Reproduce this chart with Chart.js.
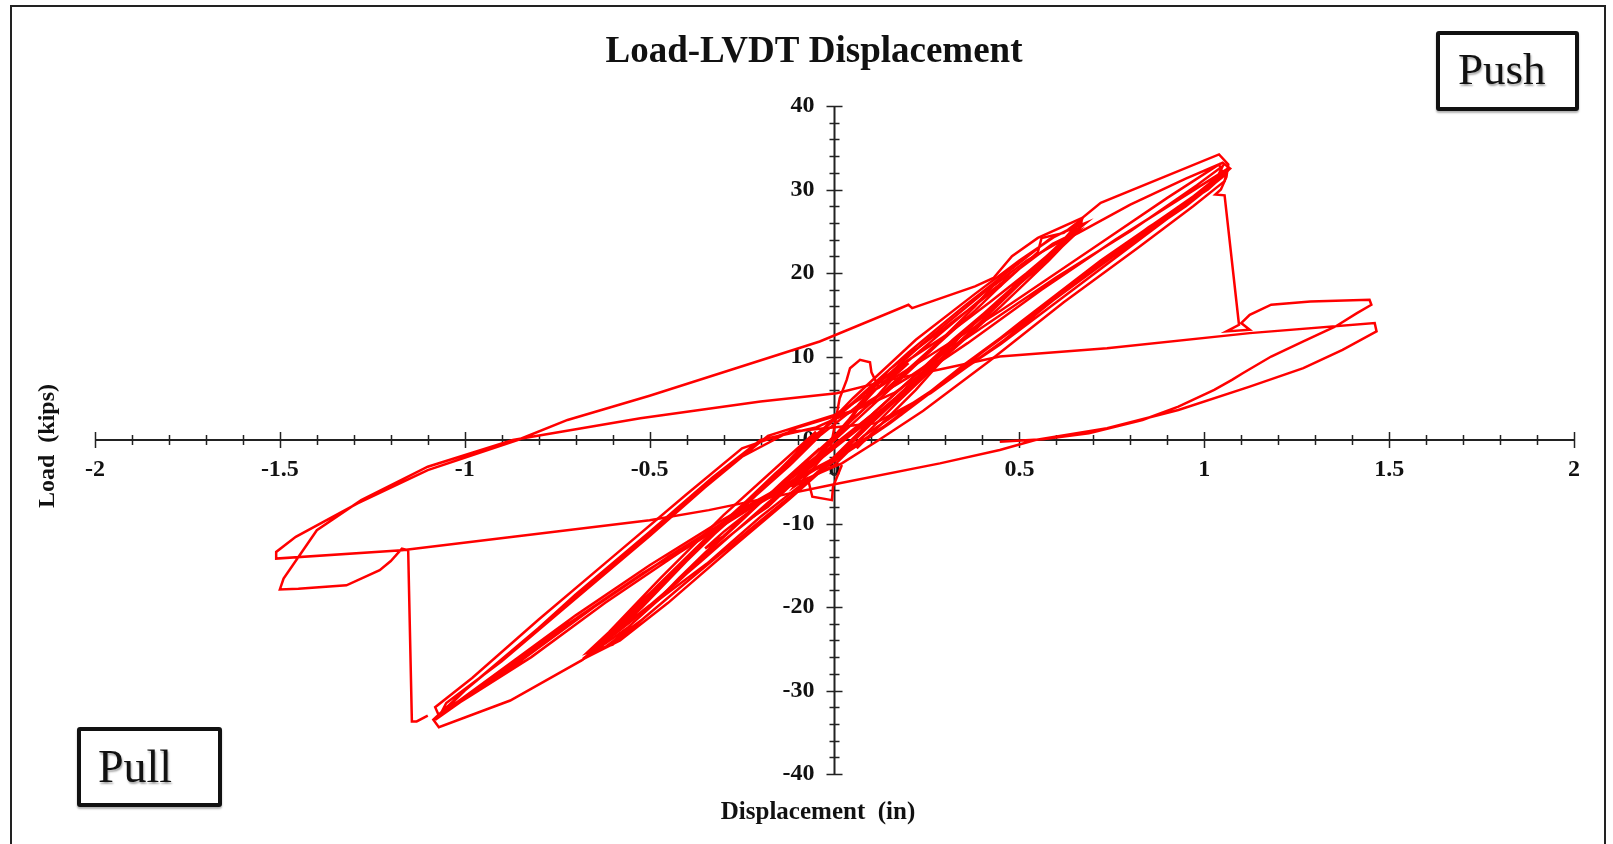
<!DOCTYPE html>
<html>
<head>
<meta charset="utf-8">
<script src="https://cdn.jsdelivr.net/npm/chart.js@4"></script>
<style>
body{margin:0;background:#fff;}
#wrap{position:relative;width:1613px;height:844px;overflow:hidden;}
#frame{position:absolute;left:10px;top:5px;width:1596px;height:845px;border:2px solid #222;box-sizing:border-box;}
.tag{position:absolute;border:4px solid #111;border-radius:3px;box-sizing:border-box;background:#fff;
font-family:"Liberation Serif",serif;font-size:45px;color:#111;text-shadow:1px 2px 2px rgba(0,0,0,0.35);
box-shadow:0 2px 2px rgba(0,0,0,0.3);}
#push{left:1436px;top:31px;width:143px;height:80px;padding:8px 0 0 18px;}
#pull{left:77px;top:727px;width:145px;height:80px;padding:9px 0 0 17px;font-size:46px;}
</style>
</head>
<body>
<div id="wrap">
<canvas id="chart" width="1613" height="844"></canvas>
<div id="frame"></div>
<div class="tag" id="push">Push</div>
<div class="tag" id="pull">Pull</div>
</div>
<script>
// small elastic cycles near the origin
const smallDisp=[0,0.03,0.06,0.09,0.11,0.08,0.04,0,-0.04,-0.08,-0.11,-0.09,-0.05,-0.01,0.014,0.033,0.042,0.069,0.096,0.1,0.12,0.16,0.2,0.17,0.11,0.05,0,-0.05,-0.1,-0.15,-0.19,-0.22,-0.18,-0.12,-0.07,-0.06,-0.007,-0.004,0.02];
const smallLoad=[0,1.5,3.5,5,6,4.8,2.5,0.5,-1.5,-3.8,-5.6,-5,-3,-0.8,5,7.2,8.6,9.6,9.3,8.1,6.3,7.8,9.2,8,5,2.5,0.3,-2.2,-4.5,-6.5,-8.2,-9.2,-8,-5.5,-5,-6.8,-7.2,-5.6,-3];

// cycles to about +-0.3 and +-0.45 in
const midDisp=[0.06,0.14,0.22,0.3,0.34,0.3,0.2,0.1,0,-0.1,-0.2,-0.3,-0.35,-0.3,-0.2,-0.1,0,0.1,0.2,0.3,0.38,0.43,0.47,0.45,0.38,0.28,0.16,0.05,-0.05,-0.15,-0.25,-0.35,-0.42,-0.47,-0.45,-0.37,-0.26,-0.14,-0.04];
const midLoad=[-1,2.5,6,10,12.5,11,7,3,-0.5,-4,-7.5,-11,-13,-11.5,-7.5,-3.5,0.5,4.5,8.5,12.5,16,18.5,19.8,18.5,15.5,11.5,6.5,2,-2,-5.5,-9.5,-13.5,-16.5,-18.8,-18,-14.5,-10,-5,-1];

// five cycles to +-0.67 in
const cyc67Disp=[0.05,0.15,0.3,0.45,0.55,0.56,0.62,0.67,0.66,0.58,0.45,0.3,0.17,0.08,0,-0.1,-0.25,-0.4,-0.52,-0.62,-0.67,-0.64,-0.55,-0.42,-0.28,-0.15,-0.06,
0.05,0.2,0.35,0.48,0.58,0.66,0.63,0.52,0.38,0.22,0.1,0.02,-0.12,-0.28,-0.45,-0.58,-0.66,-0.6,-0.48,-0.33,-0.18,-0.08,
0.08,0.18,0.3,0.42,0.52,0.6,0.65,0.67,0.62,0.54,0.44,0.32,0.2,0.1,0.02,-0.08,-0.2,-0.34,-0.46,-0.56,-0.64,-0.68,-0.63,-0.52,-0.4,-0.26,-0.12,-0.04,
0.06,0.16,0.28,0.4,0.5,0.59,0.66,0.6,0.47,0.33,0.19,0.07,-0.03,-0.18,-0.36,-0.5,-0.62,-0.67,-0.58,-0.44,-0.29,-0.16,-0.07,
0.05,0.22,0.38,0.5,0.6,0.68,0.61,0.5,0.35,0.2,0.08,0,-0.15,-0.32,-0.48,-0.6,-0.67,-0.61,-0.47,-0.3,-0.15,-0.05];
const cyc67Load=[3.5,8.5,13.5,18.5,22.5,24.2,24.8,26.5,25.2,21.5,16,10,4.5,0.5,-2.5,-6,-11.5,-17,-21.5,-24.8,-26,-24.6,-20.5,-15,-9.5,-4,0,
4.5,10.5,16,20.5,24,25.8,24,19.5,13.5,7,2,-1.5,-7,-13,-19.5,-24,-25.8,-23,-17.5,-11,-5,-0.5,
5.5,9,12.5,16.5,20,23,25.5,26.2,24,20.5,16.5,12,7,3,0,-3.5,-8.5,-13.5,-18.5,-22.5,-25,-26.2,-24.5,-20,-14.5,-8.5,-3,0.5,
4,8,12.5,17,20.5,23.5,25,22.5,17.5,12,6,1.5,-2,-7.5,-14.5,-19.8,-24,-25.5,-22.5,-16,-9.5,-4,-0.5,
5,12,17.5,21.5,24.5,26,23.5,19,13,6.5,1.5,-2,-8,-14,-20,-24.5,-25.5,-23,-16.5,-9,-3,1];

// cycles to about +1.05 / -1.08 in
const bigDisp=[0.1,0.25,0.4,0.52,0.6,0.66,0.8,0.95,1.05,1.07,1.02,0.9,0.75,0.6,0.45,0.3,0.18,0.08,
0,-0.065,-0.2,-0.345,-0.49,-0.684,-0.877,-1.07,-1.085,-1,-0.85,-0.7,-0.5,-0.33,-0.2,
-0.05,0.16,0.36,0.56,0.76,0.96,1.06,1.05,0.95,0.8,0.6,0.4,0.22,0.1,0,
-0.1,-0.3,-0.5,-0.7,-0.9,-1.07,-1.08,-0.98,-0.8,-0.6,-0.4,-0.25,-0.12,
0.11,0.26,0.46,0.66,0.85,1.01,1.06,1.055,0.97,0.82,0.62,0.42,0.24,0.12,0.02,
-0.12,-0.32,-0.52,-0.72,-0.92,-1.06,-1.08,-1,-0.8,-0.6,-0.4,-0.25,-0.1,
0.05,0.2,0.4,0.6,0.8,0.98,1.05,1.03,0.9,0.72,0.5,0.3,0.15,0.05,
-0.08,-0.25,-0.45,-0.65,-0.85,-1,-1.07,-1.05,-0.9,-0.7,-0.5,-0.32,-0.18,
0,0.2,0.45,0.7,0.9,1.04,1.05,0.96,0.78,0.55,0.35,0.18,0.06,
-0.05,-0.22,-0.42,-0.62,-0.82,-0.98,-1.07];
const bigLoad=[6,12,17.5,21.5,23.5,24.8,28.2,31.3,33.2,32.5,30.5,26.5,21.5,16.5,11.5,7,3.5,0.5,
-3,-4.5,-9.2,-14.8,-19.6,-26.4,-31.2,-34.4,-33.5,-30,-24.5,-18.5,-11,-4.5,0,
1.5,5.6,11.6,18,24,29.6,32.4,31.5,28,23.5,17,10.5,4.5,0.5,-2.5,
-4.5,-9.5,-15,-21,-27.5,-33,-32,-28.5,-21.5,-14,-6.5,-1,1,
2,5.6,12,19.2,25.5,30,32,31,28,23,16.5,9.5,3.5,0,-2.8,
-5.5,-10.5,-16,-22,-28.5,-32.5,-33.5,-30,-22.5,-15,-7.5,-2,1.5,
3.5,7.5,13.5,19.5,25,30.5,32.8,31,27,21.5,14,7,2,-1,
-4,-8.5,-14,-20,-26.5,-31,-33.2,-31.5,-26.5,-19,-11.5,-4.5,0.5,
3,8.5,15.5,23,29,33,32,28.8,23,15.5,9,3,-0.5,
-3.5,-8,-13.5,-19.5,-26,-30.5,-33];

// fracture on the pull side, then the last large cycles to +-1.5 in
const failDisp=[-1.1,-1.13,-1.143,-1.153,-1.17,-1.2,-1.23,-1.32,-1.45,-1.5,-1.49,-1.4,-1.28,-1.1,-0.87,-0.525,-0.2,0.006,0.15,0.3,0.447,0.737,1.123,1.461,1.466,1.374,1.268,1.123,0.93,0.737,0.543,0.447,0.285,0,-0.34,-0.5,-1.17,-1.51,
-1.51,-1.457,-1.29,-1.1,-0.857,-0.722,-0.5,-0.04,0.2,0.21,0.38,0.43,0.48,0.55,0.67,0.72,1.04,1.065,1.06,1.045,1.03,1.055,
1.094,1.06,1.123,1.1,1.123,1.181,1.287,1.447,1.452,1.413,1.355,1.268,1.181,1.104,1.075,1.027,0.93,0.833,0.688,0.563,0.447];
const failLoad=[-33,-33.7,-33.7,-13.2,-13,-14.5,-15.6,-17.4,-17.8,-17.9,-16.6,-10.8,-7.2,-3.2,0,2.6,4.6,5.6,7.2,8.6,10,11,12.8,14,13,10.8,8.6,6.4,3.6,1.4,0,-1.2,-2.8,-5.3,-8.4,-9.6,-13.2,-14.2,
-13.4,-11.6,-7.6,-3.6,0,2.4,5.3,11.8,16.2,15.8,18.4,19.4,22,24.2,26.6,28.4,34.2,33,31.5,30,29.4,29.3,
13.8,13,13.2,14,15,16.2,16.6,16.8,16.2,15.2,13.6,11.8,10,8,7.2,6,4,2.4,0.8,0.1,-0.2];

const xTicks={min:-2,max:2,major:0.5,minor:0.1};
const yTicks={min:-40,max:40,major:10,minor:2};

function pts(xs,ys){
return xs.map((x,i)=>({x:x,y:ys[i]}));
}

const groups=[[smallDisp,smallLoad],[midDisp,midLoad],[cyc67Disp,cyc67Load],[bigDisp,bigLoad],[failDisp,failLoad]];

const serif='"Liberation Serif", "Times New Roman", serif';

// y tick labels sit 20 px left of the vertical axis
const yLabelShift=-20/((1613-95-39)/(xTicks.max-xTicks.min));

const crossTicks={
id:"crossTicks",
beforeDatasetsDraw(c){
const ctx=c.ctx;
const xs=c.scales.x, ys=c.scales.y;
const y0=ys.getPixelForValue(0), x0=xs.getPixelForValue(0);
ctx.save();
ctx.strokeStyle="#222";
ctx.lineWidth=2;
ctx.beginPath();
ctx.moveTo(xs.left,y0);ctx.lineTo(xs.right,y0);
ctx.moveTo(x0,ys.top);ctx.lineTo(x0,ys.bottom);
ctx.stroke();
ctx.lineWidth=1.5;
ctx.beginPath();
let n=Math.round((xTicks.max-xTicks.min)/xTicks.minor);
for(let i=0;i<=n;i++){
let v=xTicks.min+i*xTicks.minor;
let isMajor=Math.abs(v/xTicks.major-Math.round(v/xTicks.major))<1e-6;
let h=isMajor?8:5;
let p=Math.round(xs.getPixelForValue(v))+0.5;
ctx.moveTo(p,y0-h);ctx.lineTo(p,y0+h);
}
n=Math.round((yTicks.max-yTicks.min)/yTicks.minor);
for(let i=0;i<=n;i++){
let v=yTicks.min+i*yTicks.minor;
let isMajor=Math.abs(v/yTicks.major-Math.round(v/yTicks.major))<1e-6;
let h=isMajor?8:5;
let p=Math.round(ys.getPixelForValue(v))+0.5;
ctx.moveTo(x0-h,p);ctx.lineTo(x0+h,p);
}
ctx.stroke();
ctx.restore();
},
afterDraw(c){
const ctx=c.ctx;
ctx.save();
ctx.fillStyle="#111";
ctx.textAlign="center";
ctx.textBaseline="middle";
ctx.font="bold 37px "+serif;
ctx.fillText("Load-LVDT Displacement",814,52);
ctx.font="bold 25px "+serif;
ctx.fillText("Displacement  (in)",818,813);
ctx.font="bold 24px "+serif;
ctx.translate(48,446);
ctx.rotate(-Math.PI/2);
ctx.fillText("Load  (kips)",0,0);
ctx.restore();
}
};

function fmt(v){
return String(Math.round(v*10)/10);
}

chart=new Chart(document.getElementById("chart"),{
type:"scatter",
data:{
datasets:groups.map(g=>({
data:pts(g[0],g[1]),
showLine:true,
borderColor:"#ff0000",
borderWidth:2.5,
pointRadius:0,
tension:0,
fill:false
}))
},
options:{
responsive:false,
animation:false,
devicePixelRatio:1,
layout:{padding:{left:95,right:39,top:106,bottom:70}},
plugins:{legend:{display:false},tooltip:{enabled:false}},
scales:{
x:{
type:"linear",
min:xTicks.min,max:xTicks.max,
position:{y:0},
grid:{display:false,drawTicks:false},
border:{display:false},
ticks:{stepSize:xTicks.major,padding:15,color:"#111",callback:fmt,font:{family:serif,size:24,weight:"bold"}}
},
y:{
type:"linear",
min:yTicks.min,max:yTicks.max,
position:{x:yLabelShift},
grid:{display:false,drawTicks:false},
border:{display:false},
ticks:{stepSize:yTicks.major,padding:0,color:"#111",callback:fmt,font:{family:serif,size:24,weight:"bold"}}
}
}
},
plugins:[crossTicks]
});
</script>
</body>
</html>
